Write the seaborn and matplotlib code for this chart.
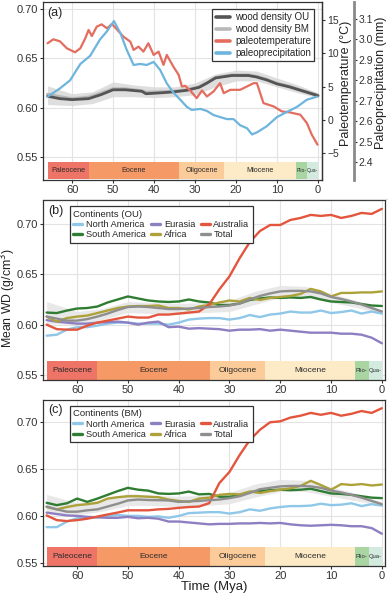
import numpy as np
import pandas as pd
import seaborn as sns
import matplotlib.pyplot as plt
from matplotlib.lines import Line2D

# ---- panel (a) data ----
wd_age = [66, 63, 60, 56, 53, 50, 47, 43, 42, 38, 35, 32, 29, 27, 25, 21, 17, 15, 12.5, 10, 7, 3.5, 0]
wd_ou = [0.6115, 0.609, 0.608, 0.609, 0.613, 0.618, 0.618, 0.6165, 0.614, 0.615, 0.616, 0.6175,
         0.6205, 0.625, 0.630, 0.6325, 0.6325, 0.631, 0.628, 0.624, 0.621, 0.6165, 0.612]
wd_bm = [0.6135, 0.611, 0.609, 0.6105, 0.6145, 0.619, 0.619, 0.617, 0.6155, 0.616, 0.6165, 0.618,
         0.621, 0.6255, 0.6305, 0.633, 0.633, 0.6315, 0.6285, 0.6245, 0.6215, 0.617, 0.6125]
rib_age = [66, 60, 55, 50, 45, 40, 35, 30, 25, 20, 15, 10, 5, 0]
rib_a_lo = [0.603, 0.602, 0.604, 0.611, 0.611, 0.610, 0.611, 0.613, 0.621, 0.627, 0.627, 0.621, 0.615, 0.610]
rib_a_hi = [0.622, 0.614, 0.616, 0.626, 0.623, 0.621, 0.621, 0.625, 0.634, 0.638, 0.637, 0.630, 0.623, 0.615]

temp_age = [66, 64.6, 63, 61.3, 59.3, 58, 56.8, 56, 55.2, 54, 52.8, 51.5, 50.3, 49.1, 47.5, 45.8, 45,
            43.8, 42.6, 41.4, 40.1, 38.9, 37.7, 36.9, 35.3, 34, 33.2, 32.4, 31.2, 29.6, 28.3, 27.1,
            25.5, 23.9, 23, 21.4, 19, 15.7, 14.9, 13.3, 10.8, 8.8, 6.8, 4.3, 2.7, 1.5, 0.1]
temp = [11.5, 12.1, 11.8, 10.75, 10.15, 10.75, 12.25, 13.5, 12.6, 14.0, 14.35, 13.75, 14.4, 13.6,
        12.5, 11.75, 10.5, 11.0, 10.25, 11.5, 9.75, 10.25, 8.25, 9.75, 8.0, 6.75, 5.0, 5.1, 4.4,
        3.25, 4.4, 3.5, 4.25, 5.5, 4.0, 4.5, 4.5, 5.5, 5.5, 2.5, 2.0, 1.25, 1.1, 0.75, -0.5, -2.25, -3.75]

prec_age = [66, 63, 60.5, 58, 55.6, 53.2, 51.5, 49.8, 48.2, 46.7, 45, 43.4, 41.8, 40.1, 38.5, 36.9,
            35.3, 33.6, 32, 30.8, 28.7, 27.1, 25.5, 23.9, 22.2, 20.6, 19, 17.3, 16.1, 14.9, 12.5,
            10, 7.6, 5.1, 2.7, 0.2]
prec = [2.72, 2.76, 2.80, 2.88, 2.92, 3.0, 3.04, 3.09, 3.03, 2.95, 2.875, 2.88, 2.875, 2.89, 2.85,
        2.785, 2.74, 2.705, 2.67, 2.655, 2.66, 2.65, 2.63, 2.62, 2.61, 2.61, 2.58, 2.565, 2.535,
        2.545, 2.575, 2.62, 2.645, 2.67, 2.705, 2.72]

# ---- panels (b) and (c) data ----
ages = [66, 64, 62, 60, 58, 56, 54, 52, 50, 48, 46, 44, 42, 40, 38, 36, 34, 32, 30, 28, 26, 24,
        22, 20, 18, 16, 14, 12, 10, 8, 6, 4, 2, 0]

ou_na = [0.589, 0.590, 0.595, 0.5975, 0.5975, 0.599, 0.601, 0.602, 0.602, 0.601, 0.601, 0.601, 0.600,
         0.602, 0.605, 0.606, 0.6065, 0.6065, 0.605, 0.6065, 0.6095, 0.6075, 0.610, 0.611, 0.613,
         0.612, 0.612, 0.614, 0.6115, 0.6125, 0.614, 0.611, 0.613, 0.611]
ou_sa = [0.612, 0.6115, 0.614, 0.616, 0.6165, 0.618, 0.622, 0.625, 0.628, 0.626, 0.624, 0.623, 0.6225,
         0.623, 0.625, 0.623, 0.622, 0.6195, 0.6195, 0.621, 0.6245, 0.626, 0.627, 0.6265, 0.627,
         0.6265, 0.6275, 0.625, 0.623, 0.6225, 0.622, 0.6205, 0.619, 0.6185]
ou_eu = [0.6045, 0.603, 0.602, 0.601, 0.601, 0.602, 0.6025, 0.603, 0.602, 0.600, 0.602, 0.603, 0.5975,
         0.598, 0.596, 0.5965, 0.596, 0.5955, 0.594, 0.595, 0.595, 0.5955, 0.594, 0.595, 0.594,
         0.593, 0.592, 0.592, 0.592, 0.591, 0.591, 0.590, 0.587, 0.5815]
ou_af = [0.608, 0.603, 0.6065, 0.608, 0.609, 0.6115, 0.614, 0.6165, 0.618, 0.6185, 0.6185, 0.619,
         0.6165, 0.6165, 0.615, 0.618, 0.6195, 0.622, 0.624, 0.623, 0.6265, 0.6245, 0.6265, 0.6275,
         0.6285, 0.6305, 0.6355, 0.633, 0.628, 0.6315, 0.6315, 0.632, 0.632, 0.633]
ou_au = [0.600, 0.5955, 0.595, 0.595, 0.599, 0.602, 0.604, 0.606, 0.608, 0.607, 0.607, 0.610, 0.610,
         0.611, 0.612, 0.613, 0.620, 0.635, 0.648, 0.666, 0.682, 0.693, 0.699, 0.699, 0.704, 0.706,
         0.709, 0.708, 0.709, 0.706, 0.708, 0.711, 0.710, 0.715]
ou_tot = [0.608, 0.606, 0.604, 0.604, 0.6055, 0.608, 0.611, 0.6145, 0.6175, 0.618, 0.6175, 0.6165,
          0.6155, 0.6155, 0.616, 0.6165, 0.6175, 0.618, 0.619, 0.621, 0.625, 0.6285, 0.631, 0.633,
          0.6335, 0.6335, 0.633, 0.631, 0.6275, 0.6255, 0.623, 0.620, 0.6165, 0.613]
rib_b_lo = [0.601, 0.600, 0.605, 0.612, 0.611, 0.610, 0.612, 0.613, 0.620, 0.627, 0.627, 0.622, 0.617, 0.611]
rib_b_hi = [0.623, 0.613, 0.616, 0.623, 0.622, 0.621, 0.622, 0.624, 0.633, 0.639, 0.638, 0.631, 0.624, 0.615]

bm_na = [0.588, 0.588, 0.594, 0.5975, 0.598, 0.5985, 0.600, 0.601, 0.600, 0.600, 0.599, 0.5995, 0.598,
         0.600, 0.603, 0.6035, 0.604, 0.604, 0.6025, 0.604, 0.607, 0.6055, 0.608, 0.6095, 0.6105,
         0.6105, 0.611, 0.613, 0.6115, 0.612, 0.6135, 0.6105, 0.6125, 0.611]
bm_sa = [0.614, 0.6115, 0.6135, 0.6185, 0.615, 0.6185, 0.6225, 0.6265, 0.630, 0.628, 0.627, 0.624,
         0.6235, 0.624, 0.626, 0.623, 0.6235, 0.6205, 0.6205, 0.622, 0.6255, 0.6265, 0.6275, 0.628,
         0.6275, 0.628, 0.629, 0.6265, 0.624, 0.6235, 0.6225, 0.621, 0.6195, 0.619]
bm_eu = [0.6035, 0.602, 0.6005, 0.600, 0.599, 0.5985, 0.598, 0.598, 0.599, 0.5975, 0.598, 0.597, 0.594,
         0.594, 0.593, 0.592, 0.591, 0.5915, 0.5915, 0.592, 0.592, 0.5925, 0.592, 0.5925, 0.591,
         0.590, 0.5895, 0.590, 0.5905, 0.590, 0.589, 0.589, 0.587, 0.581]
bm_af = [0.6095, 0.607, 0.6095, 0.6115, 0.6125, 0.614, 0.6185, 0.620, 0.621, 0.621, 0.6205, 0.620,
         0.6175, 0.616, 0.615, 0.6185, 0.6195, 0.6225, 0.6235, 0.623, 0.626, 0.6245, 0.6265, 0.628,
         0.6295, 0.632, 0.6375, 0.633, 0.628, 0.634, 0.633, 0.634, 0.6325, 0.6335]
bm_au = [0.6005, 0.5955, 0.5945, 0.5955, 0.597, 0.5993, 0.6015, 0.6036, 0.606, 0.606, 0.606, 0.607,
         0.6075, 0.6086, 0.6095, 0.610, 0.6136, 0.635, 0.647, 0.665, 0.681, 0.692, 0.700, 0.701,
         0.705, 0.707, 0.710, 0.708, 0.710, 0.707, 0.709, 0.712, 0.710, 0.715]
bm_tot = [0.610, 0.607, 0.6045, 0.6045, 0.606, 0.607, 0.610, 0.613, 0.6165, 0.6175, 0.617, 0.6168,
          0.6165, 0.615, 0.6155, 0.616, 0.6168, 0.6175, 0.619, 0.621, 0.6245, 0.6285, 0.630, 0.6315,
          0.632, 0.632, 0.6315, 0.630, 0.627, 0.625, 0.6225, 0.6195, 0.616, 0.6125]
rib_c_lo = [0.603, 0.601, 0.605, 0.611, 0.611, 0.610, 0.611, 0.613, 0.620, 0.626, 0.626, 0.621, 0.616, 0.611]
rib_c_hi = [0.623, 0.614, 0.617, 0.624, 0.622, 0.621, 0.622, 0.625, 0.634, 0.639, 0.638, 0.631, 0.624, 0.615]

# geological epochs
epochs = ["Paleocene", "Eocene", "Oligocene", "Miocene", "Plio-", "Qua-"]
epoch_start = [66, 56, 33.9, 23, 5.33, 2.58]
epoch_end = [56, 33.9, 23, 5.33, 2.58, 0]
epoch_colors = ["#EE7467", "#F59A67", "#FBCB99", "#FCEBC6", "#A9D5A3", "#D3EADF"]

cont_names = ["North America", "South America", "Eurasia", "Africa", "Australia", "Total"]
cont_colors = ["#8FC7E8", "#2F7D32", "#8D7FC2", "#ADA23A", "#E4553E", "#8E8E8E"]

sns.set_theme(style="whitegrid")
plt.rcParams["font.family"] = ["Liberation Sans", "DejaVu Sans"]
plt.rcParams["axes.edgecolor"] = "#333333"
plt.rcParams["axes.linewidth"] = 0.9
plt.rcParams["grid.color"] = "#E3E3E3"
plt.rcParams["grid.linewidth"] = 0.8
plt.rcParams["xtick.color"] = "#333333"
plt.rcParams["ytick.color"] = "#333333"

fig = plt.figure(figsize=(3.88, 5.93), dpi=100)
ax_a = fig.add_axes([0.111, 0.6965, 0.719, 0.300])
ax_b = fig.add_axes([0.111, 0.3592, 0.881, 0.3035])
ax_c = fig.add_axes([0.111, 0.0455, 0.881, 0.280])


def draw_epochs(ax, y0, y1, fs, tiny_fs):
    for name, s, e, c in zip(epochs, epoch_start, epoch_end, epoch_colors):
        ax.axvspan(e, s, ymin=y0, ymax=y1, color=c, lw=0, zorder=1)
        ax.text((s + e) / 2, (y0 + y1) / 2, name, transform=ax.get_xaxis_transform(),
                ha="center", va="center", fontsize=tiny_fs if s < 6 else fs,
                color="#2B2B2B", zorder=2)


def style_axis(ax):
    ax.set_xticks([60, 50, 40, 30, 20, 10, 0])
    ax.set_yticks([0.55, 0.60, 0.65, 0.70])
    ax.set_yticklabels(["0.55", "0.60", "0.65", "0.70"])
    ax.tick_params(axis="both", labelsize=8, length=2.5, width=0.8, pad=1.2, colors="#333333",
                   labelcolor="#333333", left=True, bottom=True)
    for sp in ax.spines.values():
        sp.set_visible(True)
        sp.set_color("#333333")
    ax.set_xlabel("")
    ax.set_ylabel("")


# ---- panel (a) ----
ax_a.fill_between(rib_age, rib_a_lo, rib_a_hi, color="#D6D6D6", alpha=0.8, lw=0, zorder=2)
sns.lineplot(x=wd_age, y=wd_bm, ax=ax_a, color="#B8B8B8", lw=2.2, zorder=3)
sns.lineplot(x=wd_age, y=wd_ou, ax=ax_a, color="#555555", lw=2.0, zorder=4)
draw_epochs(ax_a, 0.006, 0.101, 5.2, 3.6)
ax_a.set_xlim(67.1, -1.0)
ax_a.set_ylim(0.5265, 0.707)
style_axis(ax_a)
ax_a.text(0.015, 0.975, "(a)", transform=ax_a.transAxes, ha="left", va="top", fontsize=9)

ax_t = ax_a.twinx()
sns.lineplot(x=temp_age, y=temp, ax=ax_t, color="#E36D5E", lw=1.6)
ax_t.set_ylim(-9.06, 17.7)
ax_t.set_yticks([-5, 0, 5, 10, 15])
ax_t.grid(False)
ax_t.tick_params(axis="y", labelsize=7.5, length=2.5, width=0.8, pad=1.2, right=True)
ax_t.set_ylabel("")
for k, sp in ax_t.spines.items():
    sp.set_visible(k == "right")
    sp.set_color("#333333")

ax_p = ax_a.twinx()
sns.lineplot(x=prec_age, y=prec, ax=ax_p, color="#6DB5DD", lw=1.6)
ax_p.set_ylim(2.312, 3.183)
ax_p.set_yticks([2.4, 2.5, 2.6, 2.7, 2.8, 2.9, 3.0, 3.1])
ax_p.grid(False)
ax_p.spines["right"].set_position(("outward", 23))
ax_p.spines["right"].set_color("#8A8A8A")
ax_p.spines["right"].set_linewidth(2.0)
for k in ["left", "top", "bottom"]:
    ax_p.spines[k].set_visible(False)
ax_p.tick_params(axis="y", labelsize=7.5, length=2, width=0.8, pad=1.2, right=True, colors="#333333")
ax_p.set_ylabel("")
ax_p.set_xlim(67.1, -1.0)

fig.text(346 / 388, 1 - 83 / 593, "Paleotemperature (°C)", rotation=90, ha="center", va="center",
         fontsize=9, color="#222222")
fig.text(381 / 388, 1 - 83 / 593, "Paleoprecipitation (mm)", rotation=90, ha="center", va="center",
         fontsize=9, color="#222222")

handles_a = [Line2D([], [], color="#555555", lw=2.6), Line2D([], [], color="#B8B8B8", lw=2.6),
             Line2D([], [], color="#E36D5E", lw=2.6), Line2D([], [], color="#6DB5DD", lw=2.6)]
labels_a = ["wood density OU", "wood density BM", "paleotemperature", "paleoprecipitation"]
leg = ax_p.legend(handles_a, labels_a, loc="upper right", fontsize=7, frameon=True, fancybox=False,
                  edgecolor="#333333", framealpha=1, borderpad=0.35, labelspacing=0.2,
                  handlelength=1.5, handletextpad=0.5, bbox_to_anchor=(0.99, 0.99))
leg.get_frame().set_linewidth(0.9)

# ---- panels (b) and (c) ----
panel_data = [
    (ax_b, [ou_na, ou_sa, ou_eu, ou_af, ou_au, ou_tot], rib_b_lo, rib_b_hi, "(b)", "Continents (OU)", 0.105),
    (ax_c, [bm_na, bm_sa, bm_eu, bm_af, bm_au, bm_tot], rib_c_lo, rib_c_hi, "(c)", "Continents (BM)", 0.113),
]
for ax, series, lo, hi, tag, title, band_top in panel_data:
    ax.fill_between(rib_age, lo, hi, color="#E6E6E6", alpha=0.9, lw=0, zorder=2)
    df = pd.DataFrame({"age": ages * len(series),
                       "wd": np.concatenate(series),
                       "continent": np.repeat(cont_names, len(ages))})
    sns.lineplot(data=df, x="age", y="wd", hue="continent", hue_order=cont_names,
                 palette=cont_colors, lw=1.7, ax=ax, legend=False, zorder=3)
    draw_epochs(ax, 0.0, band_top, 6, 4.2)
    ax.set_xlim(66.7, -0.6)
    style_axis(ax)
    ax.text(0.015, 0.975, tag, transform=ax.transAxes, ha="left", va="top", fontsize=9)
    handles = [Line2D([], [], color=c, lw=2.4) for c in cont_colors]
    lg = ax.legend(handles, cont_names, title=title, ncol=3, loc="upper left",
                   bbox_to_anchor=(0.072, 0.975), fontsize=6.6, title_fontsize=6.8, frameon=True,
                   fancybox=False, edgecolor="#333333", framealpha=1, borderpad=0.35,
                   labelspacing=0.15, handlelength=1.0, handletextpad=0.4, columnspacing=0.6,
                   borderaxespad=0.2)
    lg._legend_box.align = "left"
    lg.get_frame().set_linewidth(0.9)

ax_b.set_ylim(0.545, 0.7238)
ax_c.set_ylim(0.5465, 0.7238)
fig.text(8.5 / 388, 1 - 298 / 593, "Mean WD (g/cm$^3$)", rotation=90, ha="center", va="center",
         fontsize=8.8, color="#222222")
ax_c.set_xlabel("Time (Mya)", fontsize=9.5, labelpad=0, color="#222222")

fig.add_artist(Line2D([43 / 388, 1.0], [1 - 199 / 593, 1 - 199 / 593], color="#DDDDDD", lw=0.8))

fig.savefig("out.png", dpi=100)
